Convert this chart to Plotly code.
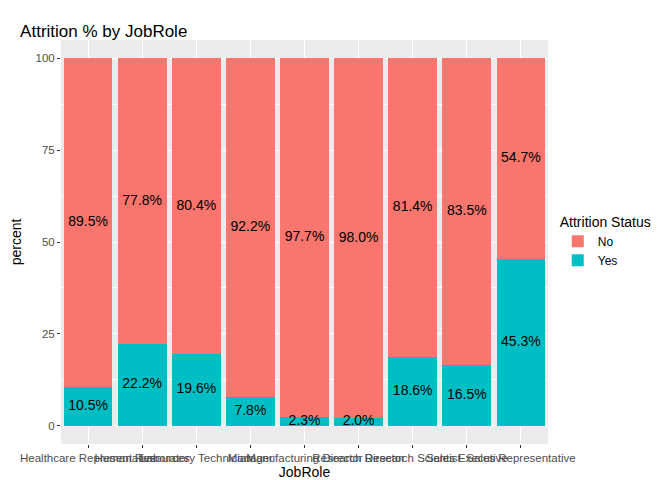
import plotly.graph_objects as go

roles = ["Healthcare Representative", "Human Resources", "Laboratory Technician",
         "Manager", "Manufacturing Director", "Research Director",
         "Research Scientist", "Sales Executive", "Sales Representative"]
yes_pct = [10.5, 22.2, 19.6, 7.8, 2.3, 2.0, 18.6, 16.5, 45.3]
no_pct = [89.5, 77.8, 80.4, 92.2, 97.7, 98.0, 81.4, 83.5, 54.7]

RED = "#F8766D"
TEAL = "#00BFC4"

fig = go.Figure()
fig.add_trace(go.Bar(x=roles, y=yes_pct, name="Yes", marker_color=TEAL,
                     marker_line_width=0, width=0.9, hoverinfo="skip"))
fig.add_trace(go.Bar(x=roles, y=no_pct, name="No", marker_color=RED,
                     marker_line_width=0, width=0.9, hoverinfo="skip"))

# labels centred in each segment
mid_yes = [v / 2 for v in yes_pct]
mid_no = [y + n / 2 for y, n in zip(yes_pct, no_pct)]
fig.add_trace(go.Scatter(x=roles + roles, y=mid_yes + mid_no, mode="text",
                         text=[f"{v:.1f}%" for v in yes_pct + no_pct],
                         textfont=dict(size=14, color="black"),
                         showlegend=False, hoverinfo="skip"))

fig.update_layout(
    barmode="stack",
    width=672, height=480,
    margin=dict(l=53, r=132, t=32, b=44),
    paper_bgcolor="white", plot_bgcolor="#EBEBEB",
    font=dict(family="Liberation Sans, Arial", color="black"),
    title=dict(text="Attrition % by JobRole", x=0.018, xanchor="left",
               y=0.965, font=dict(size=17), automargin=False),
    legend=dict(title=dict(text="Attrition Status", font=dict(size=14)),
                traceorder="reversed", x=1.02, y=0.5, yanchor="middle",
                font=dict(size=12)),
    bargap=0.1,
)
fig.update_xaxes(title=dict(text="JobRole", font=dict(size=14), standoff=0),
                 automargin=False,
                 showgrid=True, gridcolor="white", gridwidth=1.2,
                 ticks="outside", ticklen=3, tickcolor="#333333",
                 tickfont=dict(size=11.5, color="#4D4D4D"), tickangle=0)
fig.update_yaxes(title=dict(text="percent", font=dict(size=14)),
                 automargin=False,
                 range=[-5, 105], tickvals=[0, 25, 50, 75, 100],
                 showgrid=True, gridcolor="white", gridwidth=1.2, zeroline=False,
                 minor=dict(dtick=12.5, tick0=0, showgrid=True, gridcolor="white",
                            gridwidth=0.5),
                 ticks="outside", ticklen=3, tickcolor="#333333",
                 tickfont=dict(size=11.5, color="#4D4D4D"))

fig.write_html("out.html")
